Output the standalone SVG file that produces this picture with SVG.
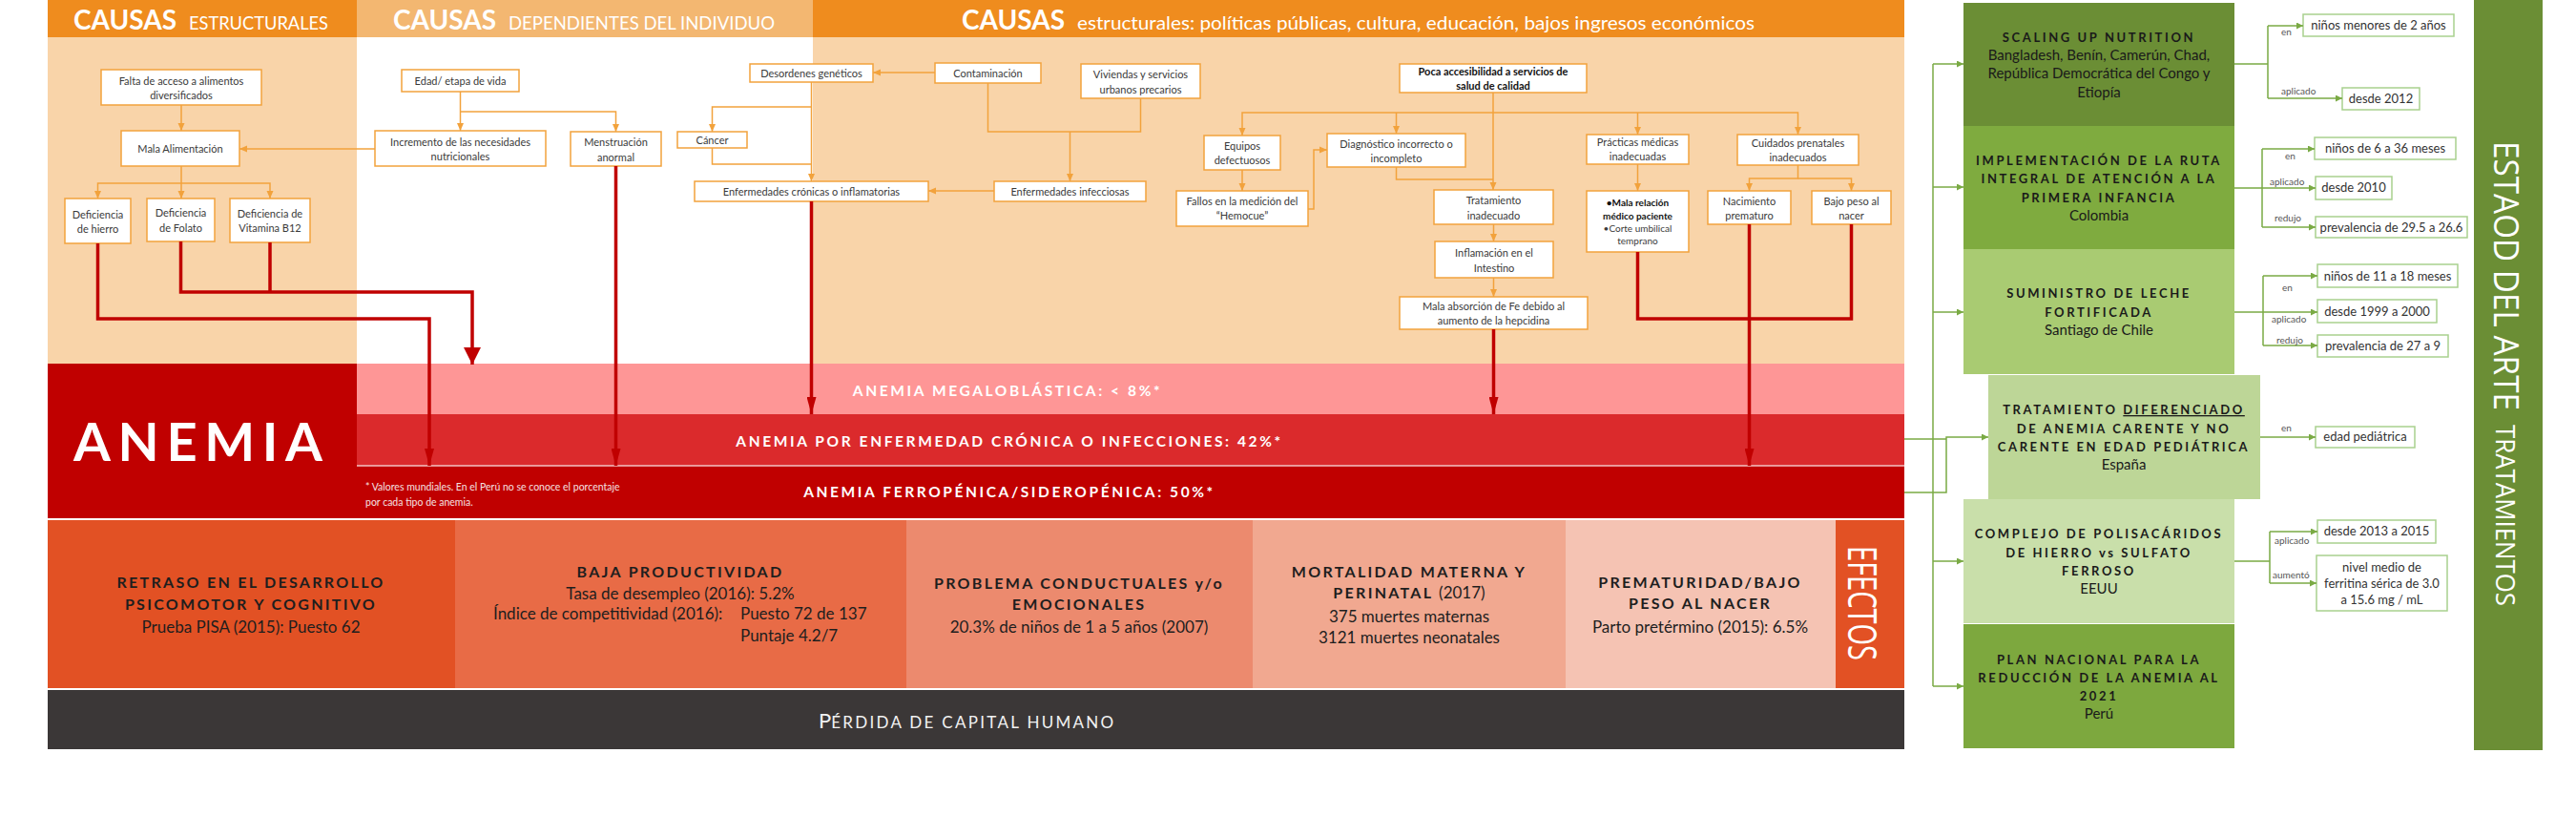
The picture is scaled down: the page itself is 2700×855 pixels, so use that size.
<svg xmlns="http://www.w3.org/2000/svg" width="2700" height="855" viewBox="0 0 2700 855">
<style>
.nb{fill:#fff;stroke:#F2A23C;stroke-width:1.5}
.db{fill:#fff;stroke:#A9D18E;stroke-width:1.5}
.nt{font-family:Lato,"Liberation Sans",sans-serif;font-size:11px;fill:#3a3a3a;text-anchor:middle}
.b{font-weight:bold;fill:#111}
.hd{font-family:Lato,"Liberation Sans",sans-serif;font-weight:bold;font-size:28px;fill:#fff}
.hs{font-family:Lato,"Liberation Sans",sans-serif;font-size:19px;fill:#fff}
.bt{font-family:Lato,"Liberation Sans",sans-serif;font-weight:bold;font-size:15.5px;letter-spacing:2.6px;fill:#fff;text-anchor:middle}
.eh{font-family:Lato,"Liberation Sans",sans-serif;font-weight:bold;font-size:16px;letter-spacing:2.3px;fill:#1e1e1e;text-anchor:middle}
.es{font-family:Lato,"Liberation Sans",sans-serif;font-size:17px;fill:#1e1e1e;text-anchor:middle}
.gh{font-family:Lato,"Liberation Sans",sans-serif;font-weight:bold;font-size:13px;letter-spacing:2.6px;fill:#1a1a1a;text-anchor:middle}
.gs{font-family:Lato,"Liberation Sans",sans-serif;font-size:15px;fill:#1a1a1a;text-anchor:middle}
.dt{font-family:Lato,"Liberation Sans",sans-serif;font-size:13px;fill:#333;text-anchor:middle}
.lb{font-family:Lato,"Liberation Sans",sans-serif;font-size:10px;fill:#555}
.oc{fill:none;stroke:#F2A23C;stroke-width:1.5}
.rc{fill:none;stroke:#C00000;stroke-width:3.5}
.gc{fill:none;stroke:#7AAA44;stroke-width:1.5}
.vt{font-family:"Open Sans","DejaVu Sans",sans-serif;fill:#fff}
</style>
<defs>
<marker id="ao" viewBox="0 0 8 8" refX="8" refY="4" markerWidth="8" markerHeight="8" markerUnits="userSpaceOnUse" orient="auto"><path d="M0,0.5 L8,4 L0,7.5z" fill="#F2A23C"/></marker>
<marker id="ar" viewBox="0 0 18 10" refX="18" refY="5" markerWidth="18" markerHeight="10" markerUnits="userSpaceOnUse" orient="auto"><path d="M0,0 L18,5 L0,10z" fill="#C00000"/></marker>
<marker id="arb" viewBox="0 0 18 18" refX="18" refY="9" markerWidth="18" markerHeight="18" markerUnits="userSpaceOnUse" orient="auto"><path d="M0,0 L18,9 L0,18z" fill="#C00000"/></marker>
<marker id="ag" viewBox="0 0 7 7" refX="7" refY="3.5" markerWidth="7" markerHeight="7" markerUnits="userSpaceOnUse" orient="auto"><path d="M0,0 L7,3.5 L0,7z" fill="#7AAA44"/></marker>
</defs>
<rect width="2700" height="855" fill="#fff"/>

<g id="headers">
<rect x="50" y="0" width="324" height="39" fill="#EF8C1E"/>
<rect x="374" y="0" width="478" height="39" fill="#F3B771"/>
<rect x="852" y="0" width="1144" height="39" fill="#EF8C1E"/>
<rect x="50" y="39" width="324" height="342" fill="#F9D4A9"/>
<rect x="852" y="39" width="1144" height="342" fill="#F9D4A9"/>
<text class="hd" x="77" y="31">CAUSAS</text>
<text class="hs" x="198" y="31" textLength="146" lengthAdjust="spacingAndGlyphs">ESTRUCTURALES</text>
<text class="hd" x="412" y="31">CAUSAS</text>
<text class="hs" x="533" y="31" textLength="279" lengthAdjust="spacingAndGlyphs">DEPENDIENTES DEL INDIVIDUO</text>
<text class="hd" x="1008" y="31">CAUSAS</text>
<text class="hs" x="1129" y="31" style="font-size:20px" textLength="710" lengthAdjust="spacingAndGlyphs">estructurales:  políticas públicas, cultura, educación, bajos ingresos económicos</text>
</g>

<g id="anemia">
<rect x="50" y="381" width="324" height="162" fill="#C00000"/>
<rect x="374" y="381" width="1622" height="53" fill="#FE9696"/>
<rect x="374" y="434" width="1622" height="54" fill="#DB2A2C"/>
<rect x="374" y="488" width="1622" height="55" fill="#C00000"/>
<line x1="374" y1="488" x2="1996" y2="488" stroke="#F3C5C5" stroke-width="1.5"/>
<text x="77" y="483" style="font-family:Lato,'Liberation Sans',sans-serif;font-weight:bold;font-size:56px;fill:#fff" textLength="261" lengthAdjust="spacing">ANEMIA</text>
<text class="bt" x="1056" y="415">ANEMIA MEGALOBLÁSTICA: &lt; 8%*</text>
<text class="bt" x="1058" y="468">ANEMIA POR ENFERMEDAD CRÓNICA O INFECCIONES: 42%*</text>
<text class="bt" x="1058" y="521">ANEMIA FERROPÉNICA/SIDEROPÉNICA: 50%*</text>
<text x="383" y="514" style="font-family:Lato,'Liberation Sans',sans-serif;font-size:10.5px;fill:#f5e0e0">* Valores mundiales. En el Perú no se conoce el porcentaje</text>
<text x="383" y="530" style="font-family:Lato,'Liberation Sans',sans-serif;font-size:10.5px;fill:#f5e0e0">por cada tipo de anemia.</text>
</g>

<g id="efectos">
<rect x="50" y="545" width="427" height="176" fill="#E25124"/>
<rect x="477" y="545" width="473" height="176" fill="#E86B46"/>
<rect x="950" y="545" width="363" height="176" fill="#EC8A6E"/>
<rect x="1313" y="545" width="328" height="176" fill="#F1A890"/>
<rect x="1641" y="545" width="283" height="176" fill="#F5C3B3"/>
<rect x="1924" y="545" width="72" height="176" fill="#E25124"/>
<text class="vt" transform="translate(1937,572) rotate(90)" style="font-size:42px" textLength="120" lengthAdjust="spacingAndGlyphs">EFECTOS</text>
<text class="eh" x="263" y="616">RETRASO EN EL DESARROLLO</text>
<text class="eh" x="263" y="639">PSICOMOTOR Y COGNITIVO</text>
<text class="es" x="263" y="663">Prueba PISA (2015): Puesto 62</text>
<text class="eh" x="713" y="605">BAJA PRODUCTIVIDAD</text>
<text class="es" x="713" y="628">Tasa de desempleo (2016): 5.2%</text>
<text class="es" x="517" y="649" style="text-anchor:start">Índice de competitividad (2016):</text>
<text class="es" x="776" y="649" style="text-anchor:start">Puesto 72 de 137</text>
<text class="es" x="776" y="672" style="text-anchor:start">Puntaje 4.2/7</text>
<text class="eh" x="1131" y="617">PROBLEMA CONDUCTUALES y/o</text>
<text class="eh" x="1131" y="639">EMOCIONALES</text>
<text class="es" x="1131" y="663">20.3% de niños de 1 a 5 años (2007)</text>
<text class="eh" x="1477" y="605">MORTALIDAD MATERNA Y</text>
<text class="eh" x="1477" y="627">PERINATAL <tspan style="font-weight:normal;letter-spacing:0;font-size:17px">(2017)</tspan></text>
<text class="es" x="1477" y="652">375 muertes maternas</text>
<text class="es" x="1477" y="674">3121 muertes neonatales</text>
<text class="eh" x="1782" y="616">PREMATURIDAD/BAJO</text>
<text class="eh" x="1782" y="638">PESO AL NACER</text>
<text class="es" x="1782" y="663">Parto pretérmino (2015): 6.5%</text>
</g>

<g id="perdida">
<rect x="50" y="723" width="1946" height="62" fill="#3B3737"/>
<text x="858" y="763" style="font-family:Lato,'Liberation Sans',sans-serif;font-size:22px;fill:#f2f2f2">P<tspan style="font-size:17px" textLength="296" lengthAdjust="spacing">ÉRDIDA DE CAPITAL HUMANO</tspan></text>
</g>

<g id="nodes">
<g id="n-falta"><rect class="nb" x="106" y="73" width="168" height="37"/><text class="nt" x="190" y="89">Falta de acceso a alimentos</text><text class="nt" x="190" y="104">diversificados</text></g>
<g id="n-mala"><rect class="nb" x="127" y="137" width="124" height="37"/><text class="nt" x="189" y="160">Mala Alimentación</text></g>
<g id="n-hierro"><rect class="nb" x="68" y="208" width="69" height="47"/><text class="nt" x="102.5" y="229">Deficiencia</text><text class="nt" x="102.5" y="244">de hierro</text></g>
<g id="n-folato"><rect class="nb" x="154" y="208" width="71" height="45"/><text class="nt" x="189.5" y="227">Deficiencia</text><text class="nt" x="189.5" y="243">de Folato</text></g>
<g id="n-b12"><rect class="nb" x="241" y="208" width="84" height="46"/><text class="nt" x="283" y="228">Deficiencia de</text><text class="nt" x="283" y="243">Vitamina B12</text></g>
<g id="n-edad"><rect class="nb" x="421" y="73" width="123" height="23"/><text class="nt" x="482.5" y="89">Edad/ etapa de vida</text></g>
<g id="n-incremento"><rect class="nb" x="393" y="137" width="179" height="37"/><text class="nt" x="482.5" y="153">Incremento de las necesidades</text><text class="nt" x="482.5" y="168">nutricionales</text></g>
<g id="n-menstruacion"><rect class="nb" x="598" y="138" width="95" height="36"/><text class="nt" x="645.5" y="153">Menstruación</text><text class="nt" x="645.5" y="169">anormal</text></g>
<g id="n-desordenes"><rect class="nb" x="786" y="67" width="129" height="19"/><text class="nt" x="850.5" y="81">Desordenes  genéticos</text></g>
<g id="n-contaminacion"><rect class="nb" x="980" y="66" width="111" height="21"/><text class="nt" x="1035.5" y="81">Contaminación</text></g>
<g id="n-viviendas"><rect class="nb" x="1133" y="67" width="125" height="36"/><text class="nt" x="1195.5" y="82">Viviendas  y servicios</text><text class="nt" x="1195.5" y="98">urbanos precarios</text></g>
<g id="n-cancer"><rect class="nb" x="710" y="138" width="73" height="17"/><text class="nt" x="746.5" y="151">Cáncer</text></g>
<g id="n-cronicas"><rect class="nb" x="728" y="190" width="245" height="21"/><text class="nt" x="850.5" y="205">Enfermedades  crónicas o inflamatorias</text></g>
<g id="n-infecciosas"><rect class="nb" x="1042" y="190" width="159" height="21"/><text class="nt" x="1121.5" y="205">Enfermedades  infecciosas</text></g>
<g id="n-poca"><rect class="nb" x="1467" y="67" width="196" height="30"/><text class="nt b" x="1565" y="79">Poca accesibilidad  a servicios  de</text><text class="nt b" x="1565" y="94">salud de calidad</text></g>
<g id="n-equipos"><rect class="nb" x="1262" y="142" width="80" height="36"/><text class="nt" x="1302" y="157">Equipos</text><text class="nt" x="1302" y="172">defectuosos</text></g>
<g id="n-fallos"><rect class="nb" x="1233" y="200" width="138" height="37"/><text class="nt" x="1302" y="215">Fallos en la medición del</text><text class="nt" x="1302" y="230">“Hemocue”</text></g>
<g id="n-diagnostico"><rect class="nb" x="1391" y="140" width="145" height="35"/><text class="nt" x="1463.5" y="155">Diagnóstico incorrecto o</text><text class="nt" x="1463.5" y="170">incompleto</text></g>
<g id="n-tratamiento"><rect class="nb" x="1503" y="199" width="125" height="36"/><text class="nt" x="1565.5" y="214">Tratamiento</text><text class="nt" x="1565.5" y="230">inadecuado</text></g>
<g id="n-inflamacion"><rect class="nb" x="1504" y="253" width="124" height="38"/><text class="nt" x="1566" y="269">Inflamación en el</text><text class="nt" x="1566" y="285">Intestino</text></g>
<g id="n-absorcion"><rect class="nb" x="1467" y="311" width="197" height="34"/><text class="nt" x="1565.5" y="325">Mala absorción de Fe debido al</text><text class="nt" x="1565.5" y="340">aumento de la hepcidina</text></g>
<g id="n-practicas"><rect class="nb" x="1663" y="141" width="107" height="31"/><text class="nt" x="1716.5" y="153">Prácticas médicas</text><text class="nt" x="1716.5" y="168">inadecuadas</text></g>
<g id="n-relacion"><rect class="nb" x="1663" y="200" width="107" height="64"/><text class="nt b" x="1716.5" y="216" style="font-size:10px">•Mala relación</text><text class="nt b" x="1716.5" y="230" style="font-size:10px">médico paciente</text><text class="nt" x="1716.5" y="243" style="font-size:10px">•Corte umbilical</text><text class="nt" x="1716.5" y="256" style="font-size:10px">temprano</text></g>
<g id="n-cuidados"><rect class="nb" x="1821" y="141" width="127" height="32"/><text class="nt" x="1884.5" y="154">Cuidados prenatales</text><text class="nt" x="1884.5" y="169">inadecuados</text></g>
<g id="n-nacimiento"><rect class="nb" x="1790" y="200" width="87" height="35"/><text class="nt" x="1833.5" y="215">Nacimiento</text><text class="nt" x="1833.5" y="230">prematuro</text></g>
<g id="n-bajopeso"><rect class="nb" x="1899" y="200" width="83" height="35"/><text class="nt" x="1940.5" y="215">Bajo peso al</text><text class="nt" x="1940.5" y="230">nacer</text></g>
</g>

<g id="tratamientos">
<g id="g-scaling"><rect x="2058" y="3" width="284" height="129" fill="#6B8E35"/><text class="gh" x="2200" y="44">SCALING UP NUTRITION</text><text class="gs" x="2200" y="63">Bangladesh, Benín, Camerún, Chad,</text><text class="gs" x="2200" y="82">República Democrática del Congo y</text><text class="gs" x="2200" y="102">Etiopía</text></g>
<g id="g-ruta"><rect x="2058" y="132" width="284" height="129" fill="#7FAB3F"/><text class="gh" x="2200" y="173">IMPLEMENTACIÓN DE LA RUTA</text><text class="gh" x="2200" y="192">INTEGRAL DE ATENCIÓN A LA</text><text class="gh" x="2200" y="212">PRIMERA INFANCIA</text><text class="gs" x="2200" y="231">Colombia</text></g>
<g id="g-leche"><rect x="2058" y="261" width="284" height="131" fill="#A9CB72"/><text class="gh" x="2200" y="312">SUMINISTRO DE LECHE</text><text class="gh" x="2200" y="332">FORTIFICADA</text><text class="gs" x="2200" y="351">Santiago de Chile</text></g>
<g id="g-diferenciado"><rect x="2084" y="393" width="285" height="130" fill="#BDD697"/><text class="gh" x="2226" y="434">TRATAMIENTO <tspan text-decoration="underline">DIFERENCIADO</tspan></text><text class="gh" x="2226" y="454">DE ANEMIA CARENTE Y NO</text><text class="gh" x="2226" y="473">CARENTE EN EDAD PEDIÁTRICA</text><text class="gs" x="2226" y="492">España</text></g>
<g id="g-complejo"><rect x="2058" y="523" width="284" height="130" fill="#C9DFAA"/><text class="gh" x="2200" y="564">COMPLEJO DE POLISACÁRIDOS</text><text class="gh" x="2200" y="584">DE HIERRO vs SULFATO</text><text class="gh" x="2200" y="603">FERROSO</text><text class="gs" x="2200" y="622">EEUU</text></g>
<g id="g-plan"><rect x="2058" y="654" width="284" height="130" fill="#7DA83E"/><text class="gh" x="2200" y="696">PLAN NACIONAL PARA LA</text><text class="gh" x="2200" y="715">REDUCCIÓN DE LA ANEMIA AL</text><text class="gh" x="2200" y="734">2021</text><text class="gs" x="2200" y="753">Perú</text></g>
<g id="estado"><rect x="2593" y="0" width="72" height="786" fill="#6B8E35"/>
<text class="vt" transform="translate(2614,148) rotate(90)" style="font-size:37px" textLength="282" lengthAdjust="spacingAndGlyphs">ESTAOD DEL ARTE</text>
<text class="vt" transform="translate(2616,445) rotate(90)" style="font-size:28px" textLength="190" lengthAdjust="spacingAndGlyphs">TRATAMIENTOS</text></g>
<g id="d-1a"><rect class="db" x="2414" y="15" width="158" height="23"/><text class="dt" x="2493" y="31">niños menores de 2 años</text></g>
<g id="d-1b"><rect class="db" x="2455" y="92" width="81" height="23"/><text class="dt" x="2495.5" y="108">desde 2012</text></g>
<g id="d-2a"><rect class="db" x="2426" y="144" width="148" height="23"/><text class="dt" x="2500" y="160">niños de 6 a 36 meses</text></g>
<g id="d-2b"><rect class="db" x="2427" y="185" width="80" height="24"/><text class="dt" x="2467" y="201">desde 2010</text></g>
<g id="d-2c"><rect class="db" x="2427" y="227" width="159" height="22"/><text class="dt" x="2506.5" y="243">prevalencia de 29.5 a 26.6</text></g>
<g id="d-3a"><rect class="db" x="2429" y="277" width="147" height="24"/><text class="dt" x="2502.5" y="294">niños de 11 a 18 meses</text></g>
<g id="d-3b"><rect class="db" x="2429" y="314" width="125" height="24"/><text class="dt" x="2491.5" y="331">desde 1999 a 2000</text></g>
<g id="d-3c"><rect class="db" x="2429" y="351" width="137" height="23"/><text class="dt" x="2497.5" y="367">prevalencia de 27 a 9</text></g>
<g id="d-4"><rect class="db" x="2427" y="447" width="104" height="22"/><text class="dt" x="2479" y="462">edad pediátrica</text></g>
<g id="d-5a"><rect class="db" x="2429" y="545" width="124" height="24"/><text class="dt" x="2491" y="561">desde 2013 a 2015</text></g>
<g id="d-5b"><rect class="db" x="2428" y="582" width="137" height="58"/><text class="dt" x="2496.5" y="599">nivel medio de</text><text class="dt" x="2496.5" y="616">ferritina sérica de 3.0</text><text class="dt" x="2496.5" y="633">a 15.6 mg / mL</text></g>
</g>

<g id="connectors">
<path class="oc" d="M190 110 V137" marker-end="url(#ao)"/>
<path class="oc" d="M393 156 H251" marker-end="url(#ao)"/>
<path class="oc" d="M190 174 V208" marker-end="url(#ao)"/>
<path class="oc" d="M190 192 H102.5 V208" marker-end="url(#ao)"/>
<path class="oc" d="M190 192 H283 V208" marker-end="url(#ao)"/>
<path class="oc" d="M482.5 96 V137" marker-end="url(#ao)"/>
<path class="oc" d="M482.5 117 H645.5 V138" marker-end="url(#ao)"/>
<path class="oc" d="M980 76 H915" marker-end="url(#ao)"/>
<path class="oc" d="M850.5 86 V190" marker-end="url(#ao)"/>
<path class="oc" d="M850.5 112 H746.5 V138" marker-end="url(#ao)"/>
<path class="oc" d="M746.5 155 V172 H850.5"/>
<path class="oc" d="M1035.5 87 V138 H1195.5 V103"/>
<path class="oc" d="M1121.5 138 V190" marker-end="url(#ao)"/>
<path class="oc" d="M1042 200 H973" marker-end="url(#ao)"/>
<path class="oc" d="M1565 97 V199" marker-end="url(#ao)"/>
<path class="oc" d="M1565 118 H1302 V142" marker-end="url(#ao)"/>
<path class="oc" d="M1565 118 H1884.5 V141" marker-end="url(#ao)"/>
<path class="oc" d="M1463.5 118 V140" marker-end="url(#ao)"/>
<path class="oc" d="M1716.5 118 V141" marker-end="url(#ao)"/>
<path class="oc" d="M1302 178 V200" marker-end="url(#ao)"/>
<path class="oc" d="M1371 219 H1377 V157 H1391" marker-end="url(#ao)"/>
<path class="oc" d="M1463.5 175 V188 H1565"/>
<path class="oc" d="M1565.5 235 V253" marker-end="url(#ao)"/>
<path class="oc" d="M1565.5 291 V311" marker-end="url(#ao)"/>
<path class="oc" d="M1716.5 172 V200" marker-end="url(#ao)"/>
<path class="oc" d="M1884.5 173 V187 H1833.5 V200" marker-end="url(#ao)"/>
<path class="oc" d="M1884.5 187 H1940.5 V200" marker-end="url(#ao)"/>

<path class="rc" d="M102.5 255 V334 H450 V488" marker-end="url(#ar)"/>
<path class="rc" d="M189.5 253 V306 H495 V382" marker-end="url(#arb)"/>
<path class="rc" d="M283 254 V306"/>
<path class="rc" d="M645.5 174 V488" marker-end="url(#ar)"/>
<path class="rc" d="M850.5 211 V434" marker-end="url(#ar)"/>
<path class="rc" d="M1565.5 345 V434" marker-end="url(#ar)"/>
<path class="rc" d="M1716.5 264 V334 H1940.5 V235"/>
<path class="rc" d="M1833.5 235 V488" marker-end="url(#ar)"/>

<path class="gc" d="M2026 67 V719"/>
<path class="gc" d="M2026 67 H2058" marker-end="url(#ag)"/>
<path class="gc" d="M2026 196 H2058" marker-end="url(#ag)"/>
<path class="gc" d="M2026 327 H2058" marker-end="url(#ag)"/>
<path class="gc" d="M2026 588 H2058" marker-end="url(#ag)"/>
<path class="gc" d="M2026 719 H2058" marker-end="url(#ag)"/>
<path class="gc" d="M1996 460 H2040"/>
<path class="gc" d="M1996 516 H2040 V458 H2084" marker-end="url(#ag)"/>
<path class="gc" d="M2342 67 H2377 M2377 27 V103"/>
<path class="gc" d="M2377 27 H2414" marker-end="url(#ag)"/>
<path class="gc" d="M2377 103 H2455" marker-end="url(#ag)"/>
<path class="gc" d="M2342 197 H2371 M2371 156 V238"/>
<path class="gc" d="M2371 156 H2426" marker-end="url(#ag)"/>
<path class="gc" d="M2371 197 H2427" marker-end="url(#ag)"/>
<path class="gc" d="M2371 238 H2427" marker-end="url(#ag)"/>
<path class="gc" d="M2342 327 H2429" marker-end="url(#ag)"/>
<path class="gc" d="M2372 289 V362"/>
<path class="gc" d="M2372 289 H2429" marker-end="url(#ag)"/>
<path class="gc" d="M2372 362 H2429" marker-end="url(#ag)"/>
<path class="gc" d="M2369 458 H2427" marker-end="url(#ag)"/>
<path class="gc" d="M2342 588 H2379 M2379 557 V611"/>
<path class="gc" d="M2379 557 H2429" marker-end="url(#ag)"/>
<path class="gc" d="M2379 611 H2428" marker-end="url(#ag)"/>
<text class="lb" x="2391" y="37">en</text>
<text class="lb" x="2391" y="99">aplicado</text>
<text class="lb" x="2395" y="167">en</text>
<text class="lb" x="2379" y="194">aplicado</text>
<text class="lb" x="2384" y="232">redujo</text>
<text class="lb" x="2392" y="305">en</text>
<text class="lb" x="2381" y="338">aplicado</text>
<text class="lb" x="2386" y="360">redujo</text>
<text class="lb" x="2391" y="452">en</text>
<text class="lb" x="2384" y="570">aplicado</text>
<text class="lb" x="2382" y="606">aumentó</text>
</g>
</svg>
